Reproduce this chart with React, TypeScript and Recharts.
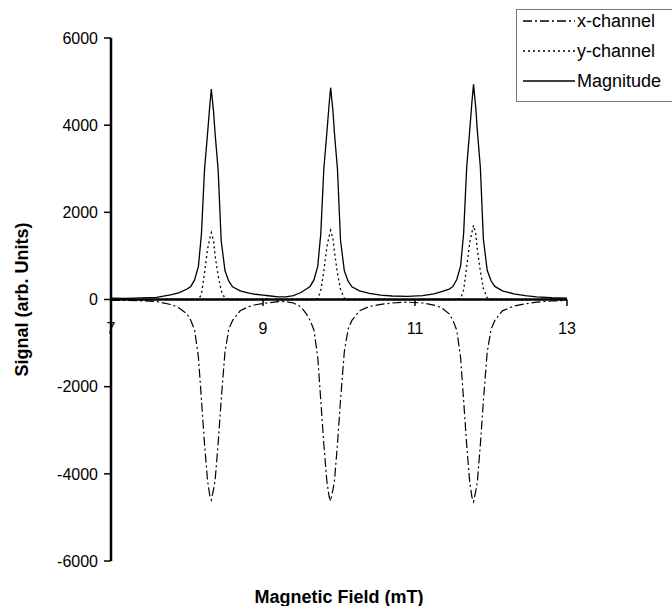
import { LineChart, Line, XAxis, YAxis, ReferenceLine, ReferenceDot } from 'recharts';

// magnetic field (mT)
const FIELD = [
  7.0, 7.2, 7.4, 7.6, 7.8, 7.9,
  8.0, 8.05, 8.1, 8.15, 8.19, 8.23, 8.27, 8.3, 8.32, 8.35, 8.37, 8.41, 8.45, 8.5, 8.55, 8.6, 8.7,
  8.8, 8.9, 9.0, 9.1, 9.2, 9.3, 9.4, 9.5,
  9.57, 9.62, 9.67, 9.72, 9.76, 9.8, 9.84, 9.87, 9.89, 9.92, 9.94, 9.98, 10.02, 10.07, 10.12, 10.17, 10.27,
  10.4, 10.55, 10.7, 10.9, 11.1, 11.25, 11.35,
  11.45, 11.5, 11.55, 11.6, 11.64, 11.68, 11.72, 11.75, 11.77, 11.8, 11.82, 11.86, 11.9, 11.95, 12.0, 12.05, 12.15,
  12.3, 12.45, 12.6, 12.8, 13.0,
];

const X_CHANNEL = [
  -20, -20, -30, -45, -120, -200,
  -330, -480, -700, -1320, -2300, -3300, -4150, -4500, -4600, -4350, -4150, -3300, -2300, -1200, -680, -480, -260,
  -170, -120, -90, -70, -50, -50, -80, -170,
  -330, -480, -700, -1320, -2310, -3310, -4170, -4520, -4620, -4370, -4170, -3310, -2310, -1200, -680, -480, -260,
  -160, -110, -80, -60, -80, -130, -190,
  -330, -480, -710, -1330, -2320, -3330, -4190, -4540, -4640, -4390, -4190, -3330, -2320, -1210, -690, -480, -260,
  -150, -100, -60, -35, -20,
];

const Y_CHANNEL = [
  0, 10, -10, 0, 10, 0,
  0, 0, 0, 0, 120, 600, 1150, 1400, 1533, 1350, 1000, 550, 200, 20, 0, 0, 0,
  -10, 0, 10, 0, -10, 0, 10, 0,
  0, 0, 0, 20, 200, 650, 1200, 1450, 1586, 1400, 1100, 600, 230, 30, 0, 0, 0,
  0, 10, 0, -10, 0, 10, 0,
  0, 0, 0, 20, 220, 750, 1300, 1550, 1701, 1500, 1150, 650, 250, 40, 0, 0, 0,
  0, -10, 0, 10, 0,
];

const MAGNITUDE = [
  30, 25, 35, 50, 110, 160,
  240, 300, 450, 760, 1500, 2970, 3800, 4450, 4830, 4300, 3800, 2970, 1350, 660, 420, 290, 200,
  150, 120, 100, 80, 60, 60, 90, 160,
  240, 300, 450, 760, 1500, 2990, 3820, 4480, 4860, 4330, 3820, 2990, 1360, 660, 420, 290, 200,
  140, 100, 80, 70, 90, 130, 180,
  240, 300, 460, 770, 1520, 3030, 3880, 4550, 4935, 4390, 3880, 3030, 1380, 670, 430, 300, 200,
  130, 90, 60, 40, 30,
];

const Y_TICKS = [-6000, -4000, -2000, 0, 2000, 4000, 6000];
const X_TICKS = [7, 9, 11, 13];

const data = FIELD.map((f, i) => ({
  field: f,
  x: X_CHANNEL[i],
  y: Y_CHANNEL[i],
  mag: MAGNITUDE[i],
}));

const DASH_X = '9 3 2 3';
const DASH_Y = '2 3';

const legendItems = [
  { label: 'x-channel', dash: DASH_X },
  { label: 'y-channel', dash: DASH_Y },
  { label: 'Magnitude', dash: undefined },
];

export default function App() {
  return (
    <div
      style={{
        position: 'absolute',
        left: 0,
        top: 0,
        width: 672,
        height: 606,
        overflow: 'hidden',
        background: '#fff',
        fontFamily: '"Liberation Sans", Arial, sans-serif',
      }}
    >
      <LineChart width={672} height={606} data={data} margin={{ top: 38, right: 105, bottom: 0, left: 0 }}>
        <XAxis
          dataKey="field"
          type="number"
          domain={[7, 13]}
          ticks={X_TICKS}
          axisLine={false}
          tickLine={false}
          tick={false}
          height={45}
          label={{ value: 'Magnetic Field (mT)', position: 'insideBottom', offset: 3, fill: '#000', fontSize: 18, fontWeight: 'bold' }}
        />
        <YAxis
          type="number"
          domain={[-6000, 6000]}
          ticks={Y_TICKS}
          width={111}
          axisLine={{ stroke: '#000', strokeWidth: 2.5 }}
          tickLine={{ stroke: '#000', strokeWidth: 1.5 }}
          tickSize={7}
          tickMargin={6}
          tick={{ fill: '#000', fontSize: 16 }}
          label={{
            value: 'Signal (arb. Units)',
            angle: -90,
            position: 'insideLeft',
            offset: 22,
            fill: '#000',
            fontSize: 18,
            fontWeight: 'bold',
            style: { textAnchor: 'middle' },
          }}
        />
        <ReferenceLine y={0} stroke="#000" strokeWidth={2.5} />
        {X_TICKS.map(t => (
          <ReferenceLine
            key={'t' + t}
            segment={[{ x: t, y: 0 }, { x: t, y: -150 }]}
            stroke="#000"
            strokeWidth={1.5}
          />
        ))}
        {X_TICKS.map(t => (
          <ReferenceDot
            key={'l' + t}
            x={t}
            y={0}
            r={0}
            stroke="none"
            fill="none"
            label={{ value: String(t), position: 'bottom', offset: 23, fill: '#000', fontSize: 16 }}
          />
        ))}
        <Line
          dataKey="x"
          type="linear"
          stroke="#000"
          strokeWidth={1.2}
          strokeDasharray={DASH_X}
          dot={false}
          isAnimationActive={false}
        />
        <Line
          dataKey="y"
          type="linear"
          stroke="#000"
          strokeWidth={1.3}
          strokeDasharray={DASH_Y}
          dot={false}
          isAnimationActive={false}
        />
        <Line
          dataKey="mag"
          type="linear"
          stroke="#000"
          strokeWidth={1.3}
          dot={false}
          isAnimationActive={false}
        />
      </LineChart>

      <div
        style={{
          position: 'absolute',
          left: 516,
          top: 9,
          width: 170,
          height: 91,
          border: '1px solid #777',
          background: '#fff',
        }}
      >
        {legendItems.map((item, i) => (
          <div
            key={item.label}
            style={{ position: 'absolute', left: 0, top: 1 + i * 30, height: 20, display: 'flex', alignItems: 'center' }}
          >
            <svg width={58} height={20} style={{ display: 'block' }}>
              <line x1={6} y1={10} x2={58} y2={10} stroke="#000" strokeWidth={1.3} strokeDasharray={item.dash} />
            </svg>
            <span style={{ fontSize: 18, lineHeight: '20px', marginLeft: 2, color: '#000' }}>{item.label}</span>
          </div>
        ))}
      </div>
    </div>
  );
}
